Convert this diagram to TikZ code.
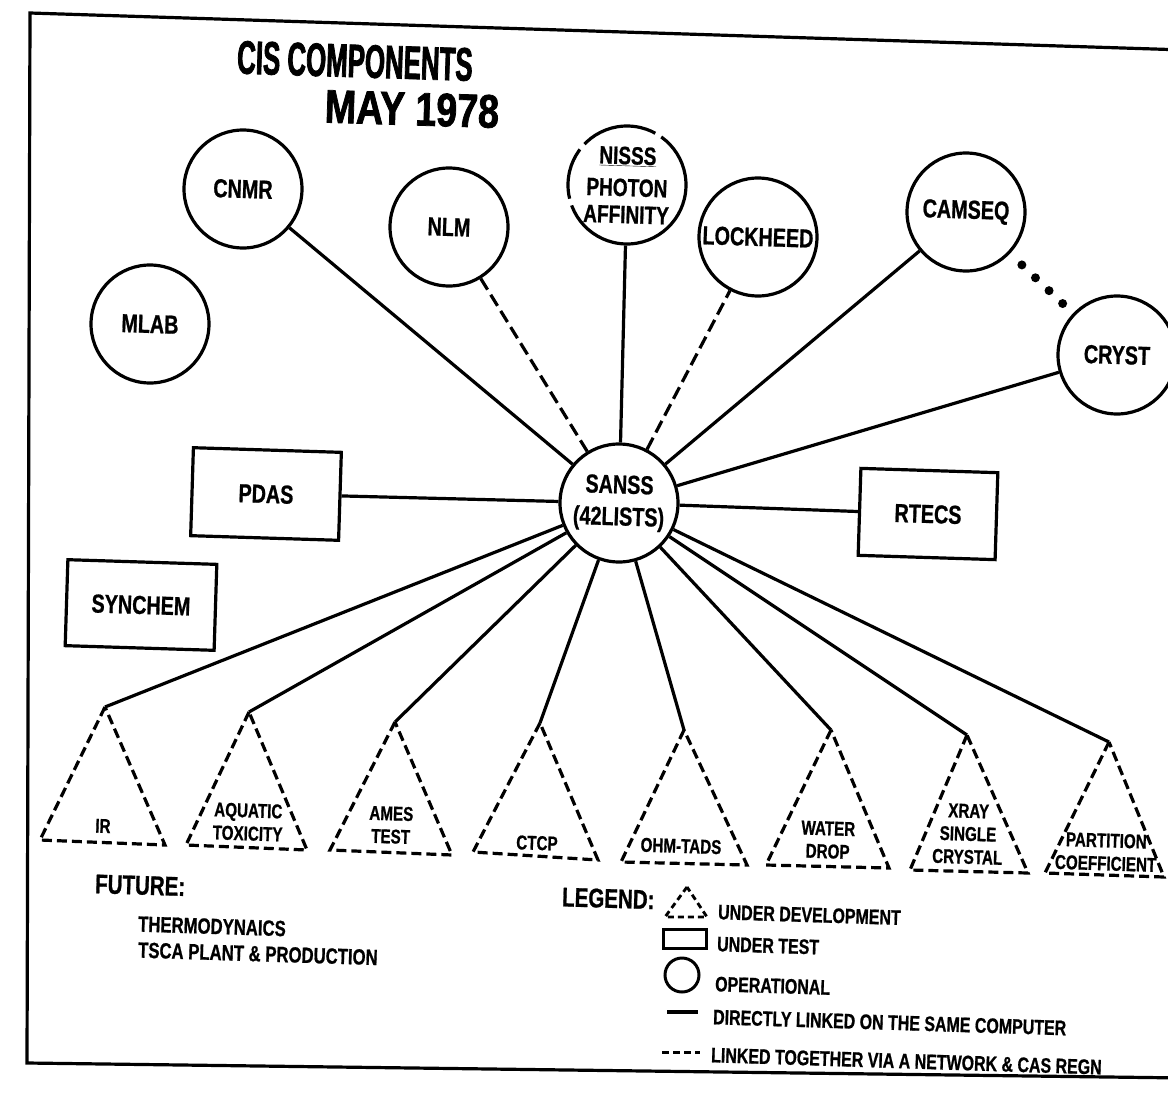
\documentclass[tikz,border=0pt]{standalone}
\usepackage{fontspec}
\newfontfamily\condfont{Liberation Sans}[FakeStretch=0.76, FakeBold=0.8]
\newfontfamily\titlefont{Liberation Sans}[FakeStretch=0.55, FakeBold=1.6]
\newfontfamily\datefont{Liberation Sans}[FakeStretch=0.8, FakeBold=1.6]

\usetikzlibrary{calc}

\tikzset{
  comp/.style={circle, draw, line width=3.2pt, minimum size=118pt, inner sep=0pt,
    align=center, font=\condfont\bfseries\fontsize{26}{32}\selectfont},
  testbox/.style={draw, line width=3.2pt, inner sep=0pt, align=center,
    font=\condfont\bfseries\fontsize{26}{30}\selectfont},
  devlabel/.style={inner sep=0pt, align=center,
    font=\condfont\bfseries\fontsize{20}{23}\selectfont},
  devedge/.style={line width=3.2pt, dash pattern=on 10pt off 5pt},
  link/.style={line width=3.2pt},
  netlink/.style={line width=3.2pt, dash pattern=on 13pt off 6pt},
  heading/.style={anchor=west, inner sep=0pt,
    font=\condfont\bfseries\fontsize{27}{27}\selectfont},
  legtext/.style={anchor=west, inner sep=0pt,
    font=\condfont\bfseries\fontsize{21}{21}\selectfont},
}

\begin{document}
\begin{tikzpicture}[x=1pt, y=-1pt, every node/.append style={rotate=-1.8}]

    %% Background
    \useasboundingbox (0,0) rectangle (1168,1093);
    \fill[white] (0,0) rectangle (1168,1093);

    % Frame
    \draw[link] (1185,50) -- (30,13) -- (27,1063) -- (1185,1078);

    % Title
    \node[inner sep=0pt, font=\titlefont\bfseries\fontsize{47}{47}\selectfont] (title) at (355,61) {CIS COMPONENTS};
    \node[inner sep=0pt, font=\datefont\bfseries\fontsize{47}{47}\selectfont] (date) at (412,109) {MAY 1978};

    % Operational
    \node[comp] (sanss) at (619,503) {SANSS\\(42LISTS)};
    \node[comp] (mlab) at (150,324) {MLAB};
    \node[comp] (cnmr) at (243,189) {CNMR};
    \node[comp] (nlm) at (449,227) {NLM};
    \node[comp, dash pattern=on 58pt off 7pt on 77pt off 7pt on 52pt off 7pt on 170pt off 0pt,
      font=\condfont\bfseries\fontsize{25}{27}\selectfont]
      (nisss) at (627,185) {\underline{NISSS}\\[5pt]PHOTON\\AFFINITY};
    \node[comp] (lockheed) at (758,237) {LOCKHEED};
    \node[comp] (camseq) at (966,212) {CAMSEQ};
    \node[comp] (cryst) at (1117,355) {CRYST};

    \foreach \t in {0.37,0.46,0.55,0.64}
    {
    \fill ($(camseq)!\t!(cryst)$) circle (4.5pt);
    }

    % Under test
    \node[testbox, minimum width=148pt, minimum height=88pt] (pdas) at (266,494) {PDAS};
    \node[testbox, minimum width=149pt, minimum height=86pt] (synchem) at (141,605) {SYNCHEM};
    \node[testbox, minimum width=137pt, minimum height=87pt] (rtecs) at (928,514) {RTECS};

    % Links
    \draw[link] (sanss) -- (cnmr);
    \draw[netlink] (sanss) -- (nlm);
    \draw[link] (sanss) -- (nisss);
    \draw[netlink] (sanss) -- (lockheed);
    \draw[link] (sanss) -- (camseq);
    \draw[link] (sanss) -- (cryst);
    \draw[link] (sanss) -- (pdas);
    \draw[link] (sanss) -- (rtecs);

    % Under development
    \foreach \n/\ax/\ay/\lx/\ly/\rx/\ry in {
      ir/105/707/40/840/165/845,
      aquatic/249/712/186/845/307/850,
      ames/395/722/330/850/452/855,
      ctcp/540/723/473/852/598/860,
      ohm/684/730/621/862/747/865,
      water/831/730/766/865/889/868,
      xray/967/735/910/870/1028/873,
      partition/1109/742/1045/873/1164/877}
    {
    \coordinate (\n) at (\ax,\ay);
    \draw[devedge] (\n) -- (\lx,\ly) -- (\rx,\ry) -- cycle;
    \draw[link] (sanss) -- (\n);
    }

    \node[devlabel] (irlbl) at (103,826) {IR};
    \node[devlabel] (aquaticlbl) at (248,822) {AQUATIC\\TOXICITY};
    \node[devlabel] (ameslbl) at (391,825) {AMES\\TEST};
    \node[devlabel] (ctcplbl) at (537,843) {CTCP};
    \node[devlabel] (ohmlbl) at (681,846) {OHM-TADS};
    \node[devlabel] (waterlbl) at (828,840) {WATER\\DROP};
    \node[devlabel] (xraylbl) at (968,834) {XRAY\\SINGLE\\CRYSTAL};
    \node[devlabel] (partitionlbl) at (1106,852) {PARTITION\\COEFFICIENT};

    % Future
    \node[heading] (future) at (95,884) {FUTURE:};
    \node[legtext, font=\condfont\bfseries\fontsize{22}{22}\selectfont] (thermo) at (138,924) {THERMODYNAICS};
    \node[legtext, font=\condfont\bfseries\fontsize{22}{22}\selectfont] (tsca) at (138,950) {TSCA PLANT \& PRODUCTION};

    % Legend
    \node[heading] (legend) at (562,897) {LEGEND:};
    \draw[line width=2.8pt, dash pattern=on 6pt off 4pt] (687,887) -- (665,917) -- (707,917) -- cycle;
    \node[legtext] (ldev) at (718,912) {UNDER DEVELOPMENT};
    \draw[line width=3pt] (663,929) rectangle (706,948);
    \node[legtext] (ltest) at (717,944) {UNDER TEST};
    \draw[line width=3pt] (682,975) circle (17);
    \node[legtext] (lop) at (715,984) {OPERATIONAL};
    \draw[link] (667,1012) -- (698,1012);
    \node[legtext] (ldirect) at (713,1017) {DIRECTLY LINKED ON THE SAME COMPUTER};
    \draw[line width=3pt, dash pattern=on 7pt off 4pt] (662,1052) -- (700,1052);
    \node[legtext] (lnet) at (711,1055) {LINKED TOGETHER VIA A NETWORK \& CAS REGN};

\end{tikzpicture}
\end{document}
